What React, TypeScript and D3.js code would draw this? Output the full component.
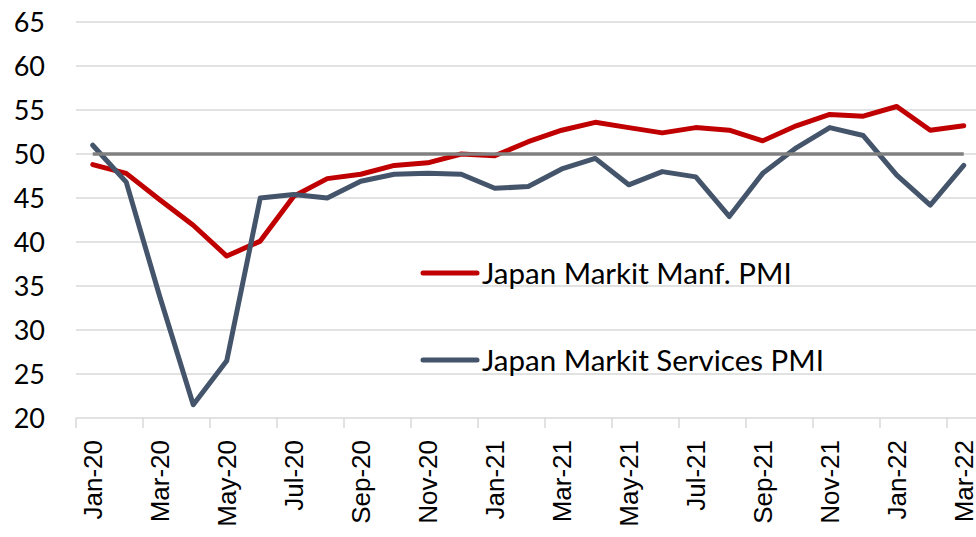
import React, { useEffect, useRef } from "react";
import * as d3 from "d3";

// months Jan-20 .. Mar-22
const months = [
  "Jan-20", "Feb-20", "Mar-20", "Apr-20", "May-20", "Jun-20", "Jul-20", "Aug-20", "Sep-20",
  "Oct-20", "Nov-20", "Dec-20", "Jan-21", "Feb-21", "Mar-21", "Apr-21", "May-21", "Jun-21",
  "Jul-21", "Aug-21", "Sep-21", "Oct-21", "Nov-21", "Dec-21", "Jan-22", "Feb-22", "Mar-22",
];

const manfPMI = [
  48.8, 47.8, 44.8, 41.9, 38.4, 40.1, 45.2, 47.2, 47.7, 48.7, 49.0, 50.0, 49.8, 51.4,
  52.7, 53.6, 53.0, 52.4, 53.0, 52.7, 51.5, 53.2, 54.5, 54.3, 55.4, 52.7, 53.2,
];

const servicesPMI = [
  51.0, 46.8, 33.8, 21.5, 26.5, 45.0, 45.4, 45.0, 46.9, 47.7, 47.8, 47.7, 46.1, 46.3,
  48.3, 49.5, 46.5, 48.0, 47.4, 42.9, 47.8, 50.7, 53.0, 52.1, 47.6, 44.2, 48.7,
];

const threshold = months.map(() => 50);

const yTicks = [20, 25, 30, 35, 40, 45, 50, 55, 60, 65];

const legendItems = [
  { name: "Japan Markit Manf. PMI", color: "#C00000" },
  { name: "Japan Markit Services PMI", color: "#44546A" },
];

const W = 976;
const H = 537;

const App = () => {
  const svgRef = useRef(null);

  useEffect(() => {
    const svg = d3.select(svgRef.current);
    svg.selectAll("*").remove();

    const left = 76;
    const step = 33.5;
    const x = d3
      .scaleBand()
      .domain(months)
      .range([left, left + months.length * step])
      .paddingInner(0)
      .paddingOuter(0);
    const cx = (m: string) => (x(m) as number) + x.bandwidth() / 2;

    const y = d3.scaleLinear().domain([20, 65]).range([418, 22]);

    // gridlines
    svg
      .append("g")
      .selectAll("line")
      .data(yTicks)
      .enter()
      .append("line")
      .attr("x1", left)
      .attr("x2", W)
      .attr("y1", (d) => y(d))
      .attr("y2", (d) => y(d))
      .attr("stroke", "#d9d9d9")
      .attr("stroke-width", 1.5);

    // y labels
    svg
      .append("g")
      .selectAll("text")
      .data(yTicks)
      .enter()
      .append("text")
      .attr("x", 45)
      .attr("y", (d) => y(d))
      .attr("dy", "0.36em")
      .attr("text-anchor", "end")
      .style("font-family", "Lato, 'Open Sans', sans-serif")
      .style("font-size", "27px")
      .attr("fill", "#000")
      .text((d) => d);

    // tick marks every 2 months
    const tickMonths = months.filter((_, i) => i % 2 === 0);
    svg
      .append("g")
      .selectAll("line")
      .data(tickMonths)
      .enter()
      .append("line")
      .attr("x1", (d) => x(d) as number)
      .attr("x2", (d) => x(d) as number)
      .attr("y1", y(20))
      .attr("y2", y(20) + 10)
      .attr("stroke", "#d9d9d9")
      .attr("stroke-width", 1.5);

    // x labels
    svg
      .append("g")
      .selectAll("text")
      .data(tickMonths)
      .enter()
      .append("text")
      .attr("transform", (d) => `translate(${cx(d)},440) rotate(-90)`)
      .attr("dy", "0.36em")
      .attr("text-anchor", "end")
      .style("font-family", "'Liberation Sans', Arial, sans-serif")
      .style("font-size", "26px")
      .attr("fill", "#000")
      .text((d) => d);

    const line = d3
      .line<number>()
      .x((_, i) => cx(months[i]))
      .y((d) => y(d));

    svg
      .append("path")
      .datum(manfPMI)
      .attr("d", line)
      .attr("fill", "none")
      .attr("stroke", "#C00000")
      .attr("stroke-width", 5)
      .attr("stroke-linejoin", "round")
      .attr("stroke-linecap", "round");

    svg
      .append("path")
      .datum(servicesPMI)
      .attr("d", line)
      .attr("fill", "none")
      .attr("stroke", "#44546A")
      .attr("stroke-width", 5)
      .attr("stroke-linejoin", "round")
      .attr("stroke-linecap", "round");

    svg
      .append("path")
      .datum(threshold)
      .attr("d", line)
      .attr("fill", "none")
      .attr("stroke", "#808080")
      .attr("stroke-width", 3.5);

    // legend
    const legendG = svg
      .selectAll(".legend")
      .data(legendItems)
      .enter()
      .append("g")
      .attr("class", "legend")
      .attr("transform", (d, i) => "translate(423," + (273 + i * 87) + ")");

    legendG
      .append("line")
      .attr("x1", 0)
      .attr("x2", 54)
      .attr("stroke", (d) => d.color)
      .attr("stroke-width", 5)
      .attr("stroke-linecap", "round");

    legendG
      .append("text")
      .attr("x", 59)
      .attr("dy", "0.36em")
      .style("font-family", "Lato, 'Open Sans', sans-serif")
      .style("font-size", "29.5px")
      .attr("fill", "#000")
      .text((d) => d.name);
  }, []);

  return (
    <svg
      ref={svgRef}
      width={W}
      height={H}
      style={{ position: "absolute", left: 0, top: 0, background: "#fff" }}
    />
  );
};

export default App;
